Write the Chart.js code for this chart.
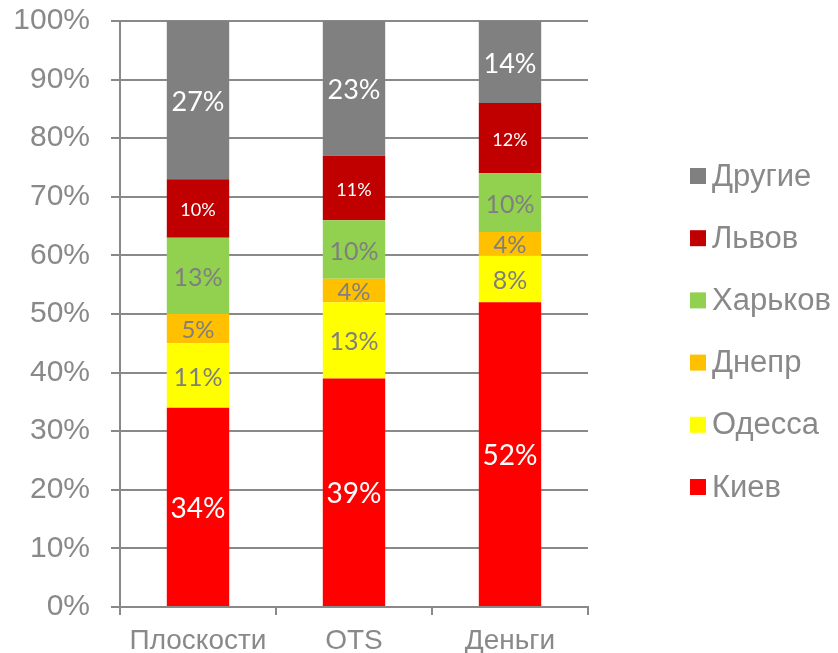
<!DOCTYPE html>
<html>
<head>
<meta charset="utf-8">
<script src="https://cdn.jsdelivr.net/npm/chart.js@4/dist/chart.umd.min.js"></script>
<style>
  html, body { margin: 0; padding: 0; background: #fff; }
  #wrap { width: 838px; height: 653px; }
</style>
</head>
<body>
<div id="wrap"><canvas id="shares"></canvas></div>
<script>
// доли городов по трём категориям, %
var categories = ['Плоскости', 'OTS', 'Деньги'];
var kiev    = [34, 39, 52];
var odessa  = [11, 13, 8];
var dnepr   = [5, 4, 4];
var kharkov = [13, 10, 10];
var lviv    = [10, 11, 12];
var other   = [27, 23, 14];
var yTicks  = [0, 10, 20, 30, 40, 50, 60, 70, 80, 90, 100];

var grey = '#898989';
var axisFont = '"Liberation Sans", Arial, sans-serif';

var series = [
    { label: 'Киев',    data: kiev,    color: '#ff0000', text: '#ffffff', size: 28 },
    { label: 'Одесса',  data: odessa,  color: '#ffff00', text: '#7f7f7f', size: 25 },
    { label: 'Днепр',   data: dnepr,   color: '#ffc000', text: '#7f7f7f', size: 24 },
    { label: 'Харьков', data: kharkov, color: '#92d050', text: '#7f7f7f', size: 25 },
    { label: 'Львов',   data: lviv,    color: '#c00000', text: '#ffffff', size: 18 },
    { label: 'Другие',  data: other,   color: '#808080', text: '#ffffff', size: 27 }
];

// подписи значений в центре каждого сегмента
var valueLabels = {
    id: 'valueLabels',
    afterDatasetsDraw: function(chart) {
        var ctx = chart.ctx;
        ctx.save();
        ctx.textAlign = 'center';
        ctx.textBaseline = 'middle';
        chart.data.datasets.forEach(function(ds, i) {
            var s = series[i];
            ctx.fillStyle = s.text;
            ctx.font = s.size + 'px Lato, "Open Sans", sans-serif';
            chart.getDatasetMeta(i).data.forEach(function(bar, j) {
                var mid = (bar.y + bar.base) / 2;
                ctx.fillText(ds.data[j] + '%', bar.x, mid + 2);
            });
        });
        ctx.restore();
    }
};

// легенда справа, сверху вниз в обратном порядке серий
var sideLegend = {
    id: 'sideLegend',
    afterDraw: function(chart) {
        var ctx = chart.ctx;
        var x = chart.chartArea.right + 102;
        var y0 = 176, step = 62.2;
        ctx.save();
        ctx.font = '31px ' + axisFont;
        ctx.textBaseline = 'middle';
        ctx.textAlign = 'left';
        chart.data.datasets.slice().reverse().forEach(function(ds, k) {
            var y = y0 + k * step;
            ctx.fillStyle = ds.backgroundColor;
            ctx.fillRect(x, y - 8, 16, 16);
            ctx.fillStyle = grey;
            ctx.fillText(ds.label, x + 22, y + 1);
        });
        ctx.restore();
    }
};

var ctx = document.getElementById('shares');
var chart = new Chart(ctx, {
    type: 'bar',
    data: {
        labels: categories,
        datasets: series.map(function(s) {
            return {
                label: s.label,
                data: s.data,
                backgroundColor: s.color,
                borderWidth: 0,
                categoryPercentage: 1,
                barPercentage: 0.4
            };
        })
    },
    plugins: [valueLabels, sideLegend],
    options: {
        responsive: true,
        maintainAspectRatio: false,
        animation: false,
        layout: { padding: { top: 21, right: 250, left: 0, bottom: 0 } },
        plugins: {
            tooltip: { enabled: false },
            legend: { display: false }
        },
        scales: {
            x: {
                stacked: true,
                afterFit: function(scale) { scale.height = 46; },
                border: { color: grey, width: 2 },
                grid: {
                    color: grey,
                    lineWidth: 2,
                    drawOnChartArea: false,
                    drawTicks: true,
                    tickLength: 8
                },
                ticks: {
                    color: grey,
                    padding: 9,
                    font: { family: axisFont, size: 28 }
                }
            },
            y: {
                stacked: true,
                min: 0,
                max: 100,
                afterFit: function(scale) {
                    scale.width = 120;
                    scale.paddingTop = 0;
                    scale.paddingBottom = 0;
                },
                afterBuildTicks: function(scale) {
                    scale.ticks = yTicks.map(function(v) { return { value: v }; });
                },
                border: { color: grey, width: 2 },
                grid: {
                    color: grey,
                    lineWidth: 2,
                    tickLength: 9
                },
                ticks: {
                    color: grey,
                    padding: 21,
                    font: { family: axisFont, size: 30 },
                    callback: function(v) { return v + '%'; }
                }
            }
        }
    }
});
</script>
</body>
</html>
